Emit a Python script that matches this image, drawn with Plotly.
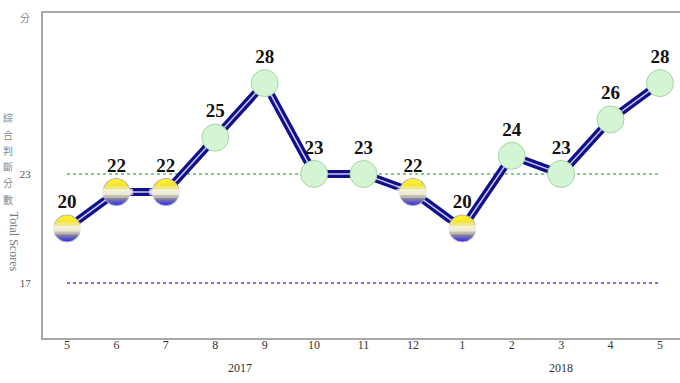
import plotly.graph_objects as go

# ---- data ----
month_labels = ["5", "6", "7", "8", "9", "10", "11", "12", "1", "2", "3", "4", "5"]
scores = [20, 22, 22, 25, 28, 23, 23, 22, 20, 24, 23, 26, 28]
year_labels = ["2017", "2018"]
year_spans = [(0, 7), (8, 12)]  # index ranges of months in each year
ref_upper = 23
ref_lower = 17
yellow_blue_max = 22  # scores at or below this get the yellow-blue light
axis_title_zh = "綜合判斷分數"
axis_title_en = "Total Scores"
unit_label = "分"

x = list(range(len(scores)))
yb_x = [i for i, s in zip(x, scores) if s <= yellow_blue_max]
yb_y = [s for s in scores if s <= yellow_blue_max]
gr_x = [i for i, s in zip(x, scores) if s > yellow_blue_max]
gr_y = [s for s in scores if s > yellow_blue_max]

serif = "Liberation Serif, Times New Roman, serif"
cjk = "Noto Sans CJK TC"
fig = go.Figure()

# reference dotted lines
fig.add_trace(go.Scatter(x=[x[0], x[-1]], y=[ref_upper, ref_upper], mode="lines",
                         line=dict(color="#5cb85c", width=1.5, dash="dot"), hoverinfo="skip"))
fig.add_trace(go.Scatter(x=[x[0], x[-1]], y=[ref_lower, ref_lower], mode="lines",
                         line=dict(color="#4a4ad0", width=1.5, dash="dot"), hoverinfo="skip"))

# double line: navy with light centre
fig.add_trace(go.Scatter(x=x, y=scores, mode="lines",
                         line=dict(color="#10108c", width=8), hoverinfo="skip"))
fig.add_trace(go.Scatter(x=x, y=scores, mode="lines",
                         line=dict(color="#c9c9ee", width=1.5), hoverinfo="skip"))

msize = 27
# yellow-blue markers: blue base, yellow fading from top, white middle band
fig.add_trace(go.Scatter(x=yb_x, y=yb_y, mode="markers",
                         marker=dict(size=msize, color="#2a2af2",
                                     line=dict(color="#b8b8c8", width=1))))
for _ in range(2):
    fig.add_trace(go.Scatter(x=yb_x, y=yb_y, mode="markers",
                             marker=dict(size=msize - 1, color="rgba(255,240,40,1)",
                                         gradient=dict(type="vertical", color="rgba(255,240,40,0)"),
                                         line=dict(width=0))))
fig.add_trace(go.Scatter(x=yb_x, y=yb_y, mode="markers",
                         marker=dict(size=msize - 5, symbol="line-ew", opacity=0.35,
                                     line=dict(color="white", width=12))))
fig.add_trace(go.Scatter(x=yb_x, y=yb_y, mode="markers",
                         marker=dict(size=msize - 3, symbol="line-ew", opacity=0.6,
                                     line=dict(color="white", width=6))))
# green markers
fig.add_trace(go.Scatter(x=gr_x, y=gr_y, mode="markers",
                         marker=dict(size=msize, color="#d3f5d3",
                                     line=dict(color="#a6d6a6", width=1))))

# value labels
fig.add_trace(go.Scatter(x=x, y=scores, mode="markers+text", text=[str(s) for s in scores],
                         textposition="top center",
                         marker=dict(size=msize - 4, color="rgba(0,0,0,0)"),
                         textfont=dict(family=serif, size=19, color="#111111", weight="bold"),
                         hoverinfo="skip"))

plot_top, plot_h = 13, 325


def paper_y(page_y):
    return 1 - (page_y - plot_top) / plot_h


annotations = []
for lab, (a, b) in zip(year_labels, year_spans):
    annotations.append(dict(x=(a + b) / 2, y=paper_y(368), xref="x", yref="paper", text=lab,
                            showarrow=False, yanchor="middle",
                            font=dict(family=serif, size=12, color="#333333")))
annotations.append(dict(x=-0.018, y=paper_y(17), xref="paper", yref="paper", text=unit_label,
                        showarrow=False, xanchor="right", yanchor="middle",
                        font=dict(family=cjk, size=10, color="#888888")))
for i, ch in enumerate(axis_title_zh):
    annotations.append(dict(x=-0.055, y=paper_y(118 + 16.2 * i), xref="paper", yref="paper",
                            text=ch, showarrow=False, xanchor="center", yanchor="middle",
                            font=dict(family=cjk, size=10, color="#888888")))
annotations.append(dict(x=-0.045, y=paper_y(242), xref="paper", yref="paper", text=axis_title_en,
                        showarrow=False, textangle=90, xanchor="center", yanchor="middle",
                        font=dict(family=serif, size=12, color="#777777")))

fig.update_layout(
    width=680, height=383,
    margin=dict(l=43, r=0, t=13, b=45, autoexpand=False),
    paper_bgcolor="white", plot_bgcolor="white",
    showlegend=False,
    annotations=annotations,
    xaxis=dict(range=[-0.486, 12.405], tickmode="array", tickvals=x, ticktext=month_labels,
               showgrid=False, zeroline=False, showline=True, mirror=True,
               linecolor="#a8a8a8", linewidth=2, ticks="", ticklabelstandoff=-5,
               tickfont=dict(family=serif, size=12, color="#333333")),
    yaxis=dict(range=[13.97, 31.86], tickmode="array", tickvals=[ref_lower, ref_upper],
               showgrid=False, zeroline=False, showline=True, linecolor="#a8a8a8", linewidth=2,
               ticks="", ticklabelstandoff=8,
               tickfont=dict(family=serif, size=11, color="#555555")),
)

# remove the page's default body margin so the figure sits at the window's corner
fig.write_html("out.html", config={"displayModeBar": False},
               post_script="document.body.style.margin='0';")
